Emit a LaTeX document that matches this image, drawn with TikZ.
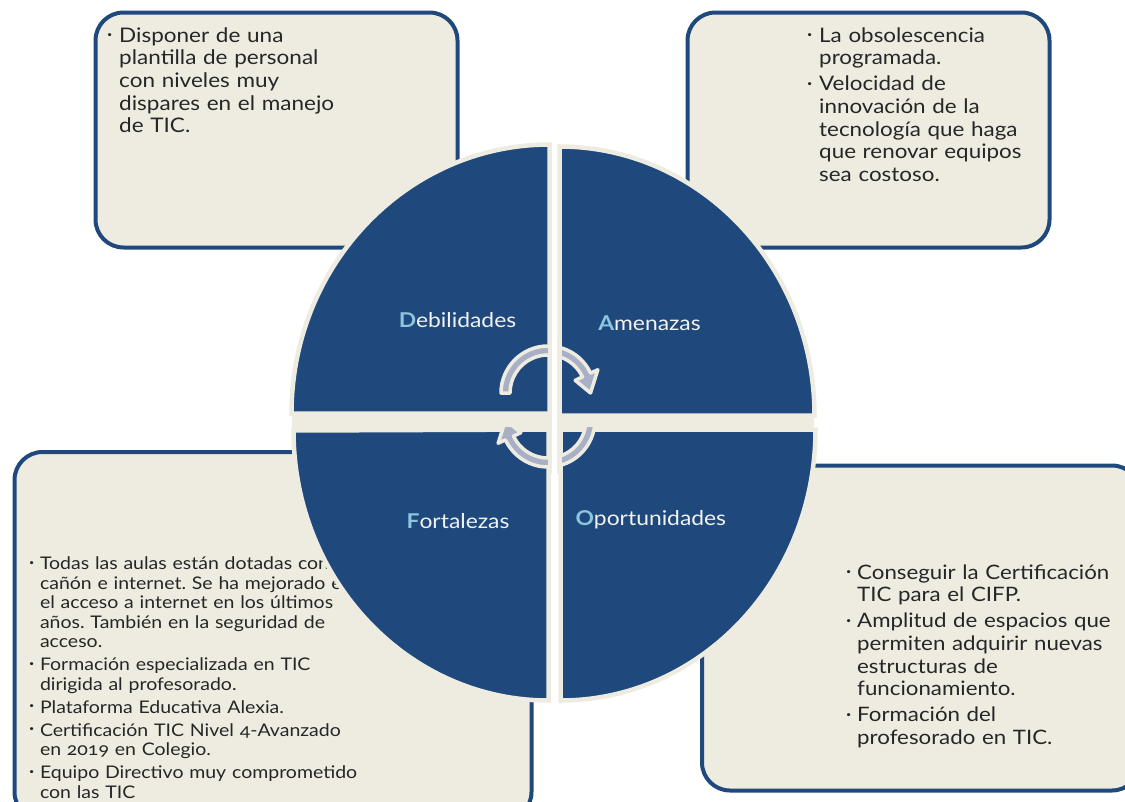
\documentclass[tikz,border=0pt]{standalone}
\usepackage{fontspec}
\setmainfont[FakeStretch=1.12,Numbers=OldStyle]{Lato}
\usetikzlibrary{
    positioning, % para posicionar nodos de forma relativa
    calc
}
\setlength{\parindent}{0pt}
\frenchspacing

\definecolor{azulosc}{HTML}{1F497D}
\definecolor{crema}{HTML}{EEECE1}
\definecolor{grisflecha}{HTML}{A9B0C6}
\definecolor{celeste}{HTML}{8CC6DE}
\definecolor{textogris}{HTML}{262626}
\definecolor{blancoet}{HTML}{F2F2F2}

% sangria de cada vineta
\newlength{\sangria}
\newcommand{\punto}[1]{\hangindent=\sangria\hangafter=1\noindent\strut
    \makebox[\sangria][l]{\raisebox{4.5pt}{\fontsize{8}{8}\selectfont\textbullet}}#1\par}

\begin{document}
\begin{tikzpicture}[x=1pt, y=-1pt]

    % --- Estilos ---
    \tikzset{
        caja/.style={draw=azulosc, line width=4pt, fill=crema, rounded corners=28pt,
                     inner sep=0pt},
        lista/.style={anchor=north west, inner sep=0pt, text width=420pt,
                      text=textogris},
        cuarto/.style={fill=azulosc, draw=crema, line width=4.5pt},
        etiqueta/.style={anchor=base, inner sep=0pt, text=blancoet,
                         font=\fontsize{20.4}{21}\selectfont},
        ciclo/.style={fill=grisflecha, draw=crema, line width=3.5pt, line join=round}
    }

    \useasboundingbox (0,0) rectangle (1125,801);
    \clip (0,0) rectangle (1125,801);

    % --- Cajas de texto ---
    \node[caja, minimum width=362pt, minimum height=235pt] (deb_caja) at (276.5,130) {};
    \node[caja, minimum width=362pt, minimum height=235pt] (ame_caja) at (868.5,130) {};
    \node[caja, minimum width=517pt, minimum height=368pt] (for_caja) at (273,636) {};
    \node[caja, minimum width=438pt, minimum height=325pt] (opo_caja) at (921,628) {};

    % --- Listas ---
    \node[lista, font=\fontsize{20.1}{22.6}\selectfont] (deb_txt) at (107,26.2) {%
        \setlength{\sangria}{12pt}%
        \punto{Disponer de una\newline plantilla de personal\newline con niveles muy\newline
               dispares en el manejo\newline de TIC.}};
    \node[lista, font=\fontsize{20}{22.6}\selectfont] (ame_txt) at (807,26.2) {%
        \setlength{\sangria}{12pt}\setlength{\parskip}{3.5pt}%
        \punto{La obsolescencia\newline programada.}
        \punto{Velocidad de\newline innovación de la\newline tecnología que haga\newline
               que renovar equipos\newline sea costoso.}};
    \node[lista, font=\fontsize{17.4}{19.6}\selectfont] (for_txt) at (29,555.6) {%
        \setlength{\sangria}{10.8pt}\setlength{\parskip}{3.25pt}%
        \punto{Todas las aulas están dotadas con\newline cañón e internet. Se ha mejorado en\newline
               el acceso a internet en los últimos\newline años. También en la seguridad de\newline acceso.}
        \punto{Formación especializada en TIC\newline dirigida al profesorado.}
        \punto{Plataforma Educativa Alexia.}
        \punto{Certificación TIC Nivel 4-Avanzado\newline en 2019 en Colegio.}
        \punto{Equipo Directivo muy comprometido\newline con las TIC}};
    \node[lista, font=\fontsize{19.9}{22.7}\selectfont] (opo_txt) at (846,563.1) {%
        \setlength{\sangria}{11pt}\setlength{\parskip}{3.3pt}%
        \punto{Conseguir la Certificación\newline TIC para el CIFP.}
        \punto{Amplitud de espacios que\newline permiten adquirir nuevas\newline estructuras de\newline
               funcionamiento.}
        \punto{Formación del\newline profesorado en TIC.}};

    % --- Circulo DAFO ---
    \fill[crema] (292,415) rectangle (814,428);
    \draw[cuarto] (549.5,413.5) -- ++(-258,0)
        arc[start angle=180, end angle=270, x radius=258, y radius=269] -- cycle;
    \draw[cuarto] (559.5,415.5) -- ++(0,-269)
        arc[start angle=270, end angle=360, x radius=255, y radius=269] -- cycle;
    \draw[cuarto] (560.5,429.5) -- ++(255,0)
        arc[start angle=0, end angle=90, x radius=255, y radius=271] -- cycle;
    \draw[cuarto] (548.5,429.5) -- ++(0,271)
        arc[start angle=90, end angle=180, x radius=255, y radius=270] -- cycle;

    % --- Flechas de ciclo ---
    \draw[ciclo, shift={(548,393)}] (180:47) arc[start angle=180, end angle=335, radius=47]
        -- (335:55) -- (360:42.5) -- (335:30) -- (335:38)
        arc[start angle=335, end angle=180, radius=38] -- cycle;
    \draw[ciclo, shift={(548,420)}] (0:47) arc[start angle=0, end angle=155, radius=47]
        -- (155:55) -- (180:42.5) -- (155:30) -- (155:38)
        arc[start angle=155, end angle=0, radius=38] -- cycle;
    \fill[crema] (494,416.5) rectangle (606,427);
    \fill[crema] (547.5,336) rectangle (562,474);
    \fill[white] (552,336) rectangle (557,474);

    % --- Etiquetas ---
    \node[etiqueta] (deb) at (457.5,327.5) {{\bfseries\color{celeste}D}ebilidades};
    \node[etiqueta] (ame) at (649.5,330) {{\bfseries\color{celeste}A}menazas};
    \node[etiqueta] (for) at (458,528.6) {{\bfseries\color{celeste}F}ortalezas};
    \node[etiqueta] (opo) at (650.8,525.7) {{\bfseries\color{celeste}O}portunidades};

\end{tikzpicture}
\end{document}
